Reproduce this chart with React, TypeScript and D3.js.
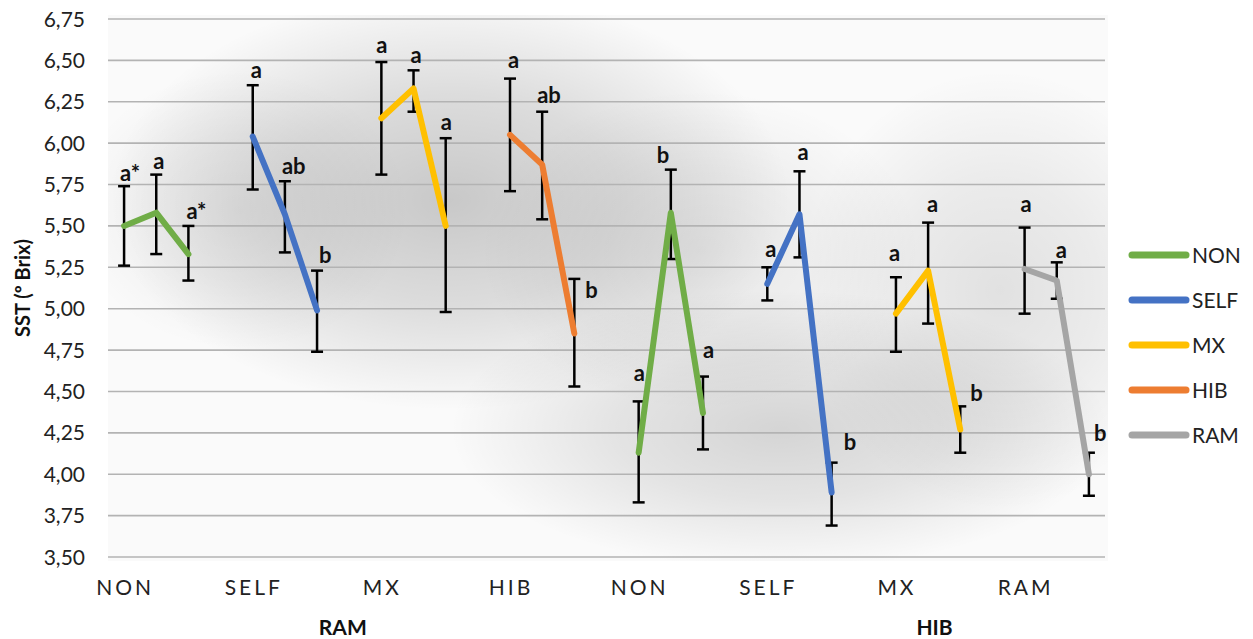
import React from "react";
import * as d3 from "d3";

// Treatment groups along the x axis (three sampling points each)
const groups = ["NON", "SELF", "MX", "HIB", "NON", "SELF", "MX", "RAM"];
// Outer category labels
const outerLabels = ["RAM", "HIB"];
// Legend series
const series = ["NON", "SELF", "MX", "HIB", "RAM"];
const seriesColors: Record<string, string> = {
  NON: "#70ad47",
  SELF: "#4472c4",
  MX: "#ffc000",
  HIB: "#ed7d31",
  RAM: "#a5a5a5",
};

// Mean SST (º Brix) per group and sampling point
const means = [
  [5.5, 5.58, 5.33],
  [6.04, 5.57, 4.99],
  [6.15, 6.33, 5.5],
  [6.05, 5.87, 4.85],
  [4.13, 5.58, 4.37],
  [5.15, 5.57, 3.89],
  [4.97, 5.23, 4.27],
  [5.24, 5.17, 4.0],
];
// Upper and lower error bar limits
const upper = [
  [5.74, 5.81, 5.5],
  [6.35, 5.77, 5.23],
  [6.49, 6.44, 6.03],
  [6.39, 6.19, 5.18],
  [4.44, 5.84, 4.59],
  [5.25, 5.83, 4.07],
  [5.19, 5.52, 4.41],
  [5.49, 5.28, 4.13],
];
const lower = [
  [5.26, 5.33, 5.17],
  [5.72, 5.34, 4.74],
  [5.81, 6.19, 4.98],
  [5.71, 5.54, 4.53],
  [3.83, 5.3, 4.15],
  [5.05, 5.31, 3.69],
  [4.74, 4.91, 4.13],
  [4.97, 5.06, 3.87],
];
// Significance letters
const letters = [
  ["a*", "a", "a*"],
  ["a", "ab", "b"],
  ["a", "a", "a"],
  ["a", "ab", "b"],
  ["a", "b", "a"],
  ["a", "a", "b"],
  ["a", "a", "b"],
  ["a", "a", "b"],
];
const yTicks = [3.5, 3.75, 4.0, 4.25, 4.5, 4.75, 5.0, 5.25, 5.5, 5.75, 6.0, 6.25, 6.5, 6.75];

// Letter placement relative to the top of each error bar (px)
const letterNudge: [number, number][][] = [
  [[-4, -5], [-3, -6], [-2, -7]],
  [[-2, -7], [-3, -7], [2, -8]],
  [[-5, -9], [-3, -7], [-5, -8]],
  [[-2, -11], [-5, -9], [11, 19]],
  [[-5, -20], [-14, -7], [0, -19]],
  [[-2, -10], [-2, -11], [12, -13]],
  [[-7, -16], [-1, -11], [10, -5]],
  [[-4, -16], [-1, -4], [5, -12]],
];

// Shading blobs behind the plot: [cx, cy, rx, ry, peak opacity]
const shade: [number, number, number, number, number][] = [
  [450, 200, 340, 210, 0.2],
  [780, 430, 330, 140, 0.15],
  [1000, 290, 200, 220, 0.1],
  [240, 210, 170, 140, 0.07],
  [700, 250, 220, 160, 0.08],
];

const W = 1253;
const H = 639;
const plotLeft = 108;
const plotRight = 1105;
const plotTop = 19;
const plotBottom = 557;
const FONT = "Lato, 'Open Sans', sans-serif";

const nSlots = groups.length * 4 - 1;
const x = d3.scaleLinear().domain([-0.5, nSlots - 0.5]).range([plotLeft, plotRight]);
const y = d3.scaleLinear().domain([3.5, 6.75]).range([plotBottom, plotTop]);
const fmt = d3.formatLocale({ decimal: ",", thousands: ".", grouping: [3], currency: ["", ""] }).format(".2f");

const line = d3
  .line<[number, number]>()
  .x((d) => x(d[0]))
  .y((d) => y(d[1]));

export default function App() {
  return (
    <svg
      width={W}
      height={H}
      style={{ position: "absolute", left: 0, top: 0, background: "#fff" }}
      fontFamily={FONT}
    >
      <defs>
        {shade.map((s, i) => (
          <radialGradient key={"rg" + i} id={`shade${i}`}>
            <stop offset="0%" stopColor="#000" stopOpacity={s[4]} />
            <stop offset="50%" stopColor="#000" stopOpacity={s[4] * 0.6} />
            <stop offset="100%" stopColor="#000" stopOpacity={0} />
          </radialGradient>
        ))}
        <clipPath id="plotClip">
          <rect x={plotLeft} y={plotTop - 4} width={plotRight - plotLeft + 3} height={plotBottom - plotTop + 8} />
        </clipPath>
      </defs>

      {/* soft shading of the plot area */}
      <g clipPath="url(#plotClip)">
        <rect x={plotLeft} y={plotTop - 4} width={plotRight - plotLeft + 3} height={plotBottom - plotTop + 8} fill="#000" opacity={0.02} />
        {shade.map((s, i) => (
          <ellipse key={"sh" + i} cx={s[0]} cy={s[1]} rx={s[2]} ry={s[3]} fill={`url(#shade${i})`} />
        ))}
      </g>

      {/* gridlines */}
      {yTicks.map((t) => (
        <line key={"g" + t} x1={plotLeft} x2={plotRight} y1={y(t)} y2={y(t)} stroke="#b3b3b3" strokeWidth={1.6} />
      ))}

      {/* y tick labels */}
      {yTicks.map((t) => (
        <text key={"t" + t} x={85} y={y(t) + 7.5} textAnchor="end" fontSize={21} fill="#222">
          {fmt(t)}
        </text>
      ))}

      {/* y axis title */}
      <text
        transform={`translate(30,${(plotTop + plotBottom) / 2}) rotate(-90)`}
        textAnchor="middle"
        fontSize={20}
        fontWeight="bold"
        fill="#111"
      >
        SST (º Brix)
      </text>

      {/* category labels */}
      {groups.map((g, i) => (
        <text key={"c" + i} x={x(i * 4) + 1} y={595} textAnchor="middle" fontSize={21} letterSpacing={3} fill="#222">
          {g}
        </text>
      ))}
      <text x={x(6.8)} y={635} textAnchor="middle" fontSize={21} fontWeight="bold" fill="#111">
        {outerLabels[0]}
      </text>
      <text x={x(25.2)} y={635} textAnchor="middle" fontSize={21} fontWeight="bold" fill="#111">
        {outerLabels[1]}
      </text>

      {/* error bars */}
      {groups.map((g, gi) =>
        means[gi].map((m, k) => {
          const cx = x(gi * 4 + k);
          return (
            <g key={`e${gi}-${k}`} stroke="#000" strokeWidth={2.5}>
              <line x1={cx} x2={cx} y1={y(upper[gi][k])} y2={y(lower[gi][k])} />
              <line x1={cx - 6} x2={cx + 6} y1={y(upper[gi][k])} y2={y(upper[gi][k])} />
              <line x1={cx - 6} x2={cx + 6} y1={y(lower[gi][k])} y2={y(lower[gi][k])} />
            </g>
          );
        })
      )}

      {/* series lines */}
      {groups.map((g, gi) => (
        <path
          key={"l" + gi}
          d={line(means[gi].map((m, k) => [gi * 4 + k, m] as [number, number])) || ""}
          fill="none"
          stroke={seriesColors[g]}
          strokeWidth={6}
          strokeLinecap="round"
          strokeLinejoin="round"
        />
      ))}

      {/* significance letters */}
      {groups.map((g, gi) =>
        letters[gi].map((lt, k) => (
          <text
            key={`s${gi}-${k}`}
            x={x(gi * 4 + k) + letterNudge[gi][k][0]}
            y={y(upper[gi][k]) + letterNudge[gi][k][1]}
            fontSize={22}
            fontWeight="bold"
            fill="#111"
          >
            {lt}
          </text>
        ))
      )}

      {/* legend */}
      {series.map((s, i) => (
        <g key={"lg" + s} transform={`translate(0,${255 + i * 45})`}>
          <line x1={1132} x2={1186} y1={0} y2={0} stroke={seriesColors[s]} strokeWidth={7} strokeLinecap="round" />
          <text x={1192} y={8} fontSize={21} fill="#222">
            {s}
          </text>
        </g>
      ))}
    </svg>
  );
}
